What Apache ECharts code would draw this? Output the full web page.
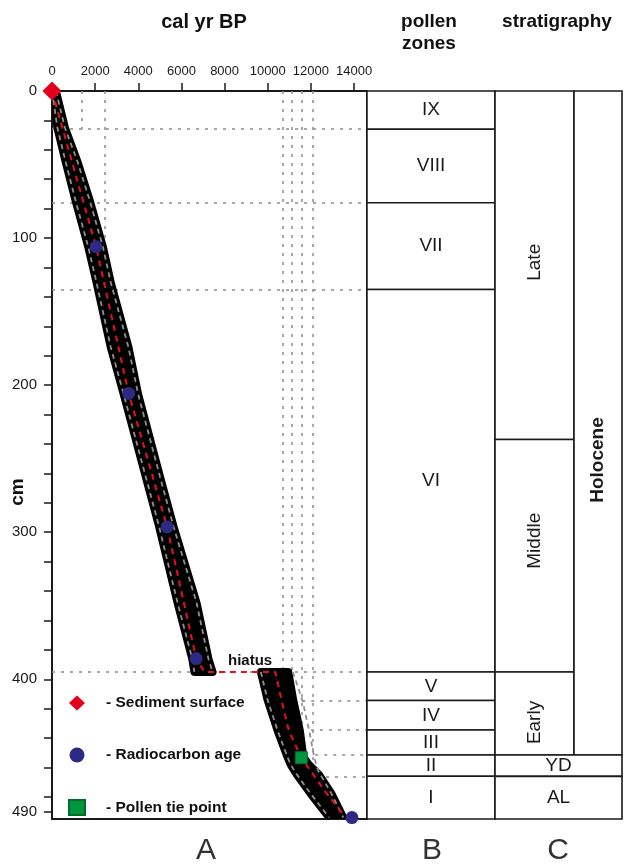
<!DOCTYPE html>
<html>
<head>
<meta charset="utf-8">
<script src="https://cdn.jsdelivr.net/npm/echarts@6/dist/echarts.min.js"></script>
<style>
html, body { margin: 0; padding: 0; background: #fff; }
#container { width: 626px; height: 865px; }
</style>
</head>
<body>
<div id="container"></div>
<script>
// axis ticks
var xTicks = [0, 2000, 4000, 6000, 8000, 10000, 12000, 14000];
var yLabels = [0, 100, 200, 300, 400, 490];
var yTicks = [0, 20, 40, 60, 80, 100, 120, 140, 160, 180, 200, 220, 240, 260, 280, 300,
              320, 340, 360, 380, 400, 420, 440, 460, 480, 490];

// dated levels [cal yr BP, cm]
var surfaceAge = [[0, 0]];
var radiocarbonAges = [[2042, 105.9], [3555, 205.6], [5336, 296.4], [6682, 385.9], [13900, 494]];
var pollenTiePoints = [[11555, 453.3]];

// age-depth model (red dashed)
var medianAges = [0, 2042, 3555, 5336, 6682, 7067, 10350, 10650, 10980, 11555, 12650, 13550];
var medianDepths = [0, 105.9, 205.6, 296.4, 385.9, 395, 395, 415, 435, 453.3, 476, 493];

// uncertainty envelope, above hiatus
var upperDepths = [0, 25, 48, 75, 106, 130, 174, 206, 262, 296, 348, 386, 395];
var upperYoung = [0, 250, 630, 1100, 1680, 2060, 2720, 3320, 4340, 4960, 5820, 6500, 6600];
var upperOld = [180, 600, 1180, 1760, 2360, 2720, 3540, 3990, 5000, 5630, 6700, 7250, 7440];

// uncertainty envelope, below hiatus
var lowerDepths = [395, 414, 435, 453, 458, 465, 478, 494];
var lowerYoung = [9680, 9990, 10460, 10920, 11060, 11360, 12000, 12850];
var lowerOld = [10950, 11180, 11490, 11650, 11900, 12380, 12960, 13500];
var lowerMaxDepths = [395, 415, 437, 453, 462, 478, 494];
var lowerMaxAges = [11165, 11620, 11950, 12150, 12330, 12960, 13500];

var hiatusDepth = 395;
var hiatusLabelAge = 9180;

// dotted guides
var boundaryDepths = [26, 76, 135, 395, 414.5, 434.5, 451.5, 466];
var boundaryFromAges = [0, 0, 0, 0, 11600, 12000, 12200, 12700];
var guideAges = [1400, 2430, 10700, 11100, 11570, 12080];
var guideDepths = [26, 135, 395, 414.5, 434.5, 466];

// pollen zones
var pollenZones = ['IX', 'VIII', 'VII', 'VI', 'V', 'IV', 'III', 'II', 'I'];
var zoneTops = [0, 26, 76, 135, 395, 414.5, 434.5, 451.5, 466];
var zoneBottoms = [26, 76, 135, 395, 414.5, 434.5, 451.5, 466, 495];

// stratigraphy
var stratUnits = ['Late', 'Middle', 'Early', 'Holocene', 'YD', 'AL'];
var stratRanks = ['stage', 'stage', 'stage', 'epoch', 'zone', 'zone'];
var stratTops = [0, 237, 395, 0, 451.5, 466];
var stratBottoms = [237, 395, 451.5, 451.5, 466, 495];

var AGE_MAX = 14600;
var DEPTH_MAX = 495;
var FONT = '"Liberation Sans", Arial, Helvetica, sans-serif';

function pairs(xs, ys) {
    return xs.map(function (x, i) { return [x, ys[i]]; });
}

var envelopes = [
    { depths: upperDepths, young: upperYoung, old: upperOld },
    { depths: lowerDepths, young: lowerYoung, old: lowerOld }
];

function renderEnvelope(params, api) {
    var seg = envelopes[params.dataIndex];
    var pts = [];
    for (var i = 0; i < seg.depths.length; i++) pts.push(api.coord([seg.young[i], seg.depths[i]]));
    for (var j = seg.depths.length - 1; j >= 0; j--) pts.push(api.coord([seg.old[j], seg.depths[j]]));
    return {
        type: 'polygon',
        shape: { points: pts },
        style: { fill: '#000', stroke: '#000', lineWidth: 8, lineJoin: 'round' }
    };
}

function cellText(text, x, y, font, rotation) {
    return {
        type: 'text', x: x, y: y, rotation: rotation || 0,
        style: {
            text: text, font: font, fill: '#1a1a1a',
            align: 'center', verticalAlign: 'middle',
            textAlign: 'center', textVerticalAlign: 'middle'
        }
    };
}

function renderZone(params, api) {
    var a = api.coord([0, api.value(0)]);
    var b = api.coord([1, api.value(1)]);
    return {
        type: 'group',
        children: [
            { type: 'rect', shape: { x: a[0], y: a[1], width: b[0] - a[0], height: b[1] - a[1] },
              style: { fill: '#fff', stroke: '#1a1a1a', lineWidth: 1.5 } },
            cellText(pollenZones[params.dataIndex], (a[0] + b[0]) / 2, (a[1] + b[1]) / 2, '19px ' + FONT)
        ]
    };
}

var rankCols = { stage: [0, 0.622], epoch: [0.622, 1], zone: [0, 1] };
var labelShift = { Late: -3, Middle: -15, Early: 9, Holocene: 37 };

function renderStrat(params, api) {
    var i = params.dataIndex;
    var rank = stratRanks[i];
    var cols = rankCols[rank];
    var a = api.coord([cols[0], api.value(0)]);
    var b = api.coord([cols[1], api.value(1)]);
    var font = (rank === 'epoch' ? 'bold 19px ' : '19px ') + FONT;
    var rot = rank === 'zone' ? 0 : Math.PI / 2;
    return {
        type: 'group',
        children: [
            { type: 'rect', shape: { x: a[0], y: a[1], width: b[0] - a[0], height: b[1] - a[1] },
              style: { fill: '#fff', stroke: '#1a1a1a', lineWidth: 1.6 } },
            cellText(stratUnits[i], (a[0] + b[0]) / 2, (a[1] + b[1]) / 2 + (labelShift[stratUnits[i]] || 0), font, rot)
        ]
    };
}

var guideLines = [];
boundaryDepths.forEach(function (d, i) {
    guideLines.push({ coords: [[boundaryFromAges[i], d], [AGE_MAX, d]] });
});
guideAges.forEach(function (a, i) {
    guideLines.push({ coords: [[a, 0], [a, guideDepths[i]]] });
});

var grayDash = { color: '#8f8f8f', width: 1.8, type: [5, 4] };

var myChart = echarts.init(document.getElementById('container'));

myChart.setOption({
    animation: false,
    grid: [
        { left: 52, top: 91, width: 315, height: 728, show: true, borderColor: '#1a1a1a', borderWidth: 2, outerBoundsMode: 'none' },
        { left: 367, top: 91, width: 128, height: 728, outerBoundsMode: 'none' },
        { left: 495, top: 91, width: 127, height: 728, outerBoundsMode: 'none' }
    ],
    xAxis: [
        {
            gridIndex: 0, type: 'value', position: 'top', min: 0, max: AGE_MAX,
            axisLine: { show: true, lineStyle: { color: '#1a1a1a', width: 2 } },
            axisTick: { show: true, customValues: xTicks, length: 8, lineStyle: { color: '#1a1a1a', width: 1.5 } },
            axisLabel: {
                customValues: xTicks, fontSize: 13, fontFamily: FONT, color: '#1a1a1a', margin: 13,
                formatter: function (v) { return String(v); }
            },
            splitLine: { show: false }
        },
        { gridIndex: 1, type: 'value', min: 0, max: 1, show: false },
        { gridIndex: 2, type: 'value', min: 0, max: 1, show: false }
    ],
    yAxis: [
        {
            gridIndex: 0, type: 'value', inverse: true, min: 0, max: DEPTH_MAX,
            axisLine: { show: true, lineStyle: { color: '#1a1a1a', width: 2 } },
            axisTick: { show: true, customValues: yTicks, length: 8, lineStyle: { color: '#1a1a1a', width: 1.5 } },
            axisLabel: { customValues: yLabels, fontSize: 15, fontFamily: FONT, color: '#1a1a1a', margin: 15 },
            splitLine: { show: false }
        },
        { gridIndex: 1, type: 'value', inverse: true, min: 0, max: DEPTH_MAX, show: false },
        { gridIndex: 2, type: 'value', inverse: true, min: 0, max: DEPTH_MAX, show: false }
    ],
    legend: {
        orient: 'vertical', left: 63, top: 690, itemGap: 36,
        itemWidth: 16, itemHeight: 15, selectedMode: false,
        data: ['- Sediment surface', '- Radiocarbon age', '- Pollen tie point'],
        textStyle: { fontSize: 15.5, fontWeight: 'bold', fontFamily: FONT, color: '#111', padding: [0, 0, 0, 16] }
    },
    graphic: [
        { type: 'text', x: 204, y: 22, style: { text: 'cal yr BP', font: 'bold 20px ' + FONT, fill: '#111', textAlign: 'center', textVerticalAlign: 'middle' } },
        { type: 'text', x: 429, y: 22, style: { text: 'pollen', font: 'bold 19px ' + FONT, fill: '#111', textAlign: 'center', textVerticalAlign: 'middle' } },
        { type: 'text', x: 429, y: 44, style: { text: 'zones', font: 'bold 19px ' + FONT, fill: '#111', textAlign: 'center', textVerticalAlign: 'middle' } },
        { type: 'text', x: 557, y: 22, style: { text: 'stratigraphy', font: 'bold 19px ' + FONT, fill: '#111', textAlign: 'center', textVerticalAlign: 'middle' } },
        { type: 'text', x: 18, y: 492, rotation: Math.PI / 2, style: { text: 'cm', font: 'bold 19px ' + FONT, fill: '#111', textAlign: 'center', textVerticalAlign: 'middle' } },
        { type: 'text', x: 206, y: 851, style: { text: 'A', font: '30px ' + FONT, fill: '#333', textAlign: 'center', textVerticalAlign: 'middle' } },
        { type: 'text', x: 432, y: 851, style: { text: 'B', font: '30px ' + FONT, fill: '#333', textAlign: 'center', textVerticalAlign: 'middle' } },
        { type: 'text', x: 558, y: 851, style: { text: 'C', font: '30px ' + FONT, fill: '#333', textAlign: 'center', textVerticalAlign: 'middle' } }
    ],
    series: [
        {
            name: 'guides', type: 'lines', coordinateSystem: 'cartesian2d', xAxisIndex: 0, yAxisIndex: 0,
            silent: true, z: 1, data: guideLines,
            lineStyle: { color: '#8a8a8a', width: 1.5, type: [3, 6], opacity: 1 }
        },
        {
            name: 'envelope', type: 'custom', xAxisIndex: 0, yAxisIndex: 0, z: 2, clip: true, silent: true,
            renderItem: renderEnvelope,
            data: [[upperYoung[0], upperDepths[0]], [lowerYoung[0], lowerDepths[0]]]
        },
        { name: 'upperYoung', type: 'line', z: 3, showSymbol: false, silent: true, lineStyle: grayDash, data: pairs(upperYoung, upperDepths) },
        { name: 'upperOld', type: 'line', z: 3, showSymbol: false, silent: true, lineStyle: grayDash, data: pairs(upperOld, upperDepths) },
        { name: 'lowerYoung', type: 'line', z: 3, showSymbol: false, silent: true, lineStyle: grayDash, data: pairs(lowerYoung, lowerDepths) },
        { name: 'lowerMax', type: 'line', z: 3, showSymbol: false, silent: true, lineStyle: grayDash, data: pairs(lowerMaxAges, lowerMaxDepths) },
        {
            name: 'model', type: 'line', z: 4, showSymbol: false, silent: true,
            lineStyle: { color: '#e8101a', width: 2, type: [6, 5] },
            data: pairs(medianAges, medianDepths)
        },
        {
            name: 'hiatus', type: 'scatter', z: 4, symbolSize: 1, silent: true,
            itemStyle: { color: 'rgba(0,0,0,0)', opacity: 1 },
            label: { show: true, position: 'top', distance: 3, formatter: 'hiatus', fontSize: 15, fontWeight: 'bold', fontFamily: FONT, color: '#111', opacity: 1 },
            data: [[hiatusLabelAge, hiatusDepth]]
        },
        {
            name: '- Sediment surface', type: 'scatter', z: 5, clip: false, symbol: 'diamond', symbolSize: 19,
            itemStyle: { color: '#e3001b', opacity: 1 }, data: surfaceAge
        },
        {
            name: '- Radiocarbon age', type: 'scatter', z: 5, clip: false, symbol: 'circle', symbolSize: 13,
            itemStyle: { color: '#2d2a83', opacity: 1 }, data: radiocarbonAges
        },
        {
            name: '- Pollen tie point', type: 'scatter', z: 5, clip: false, symbol: 'rect', symbolSize: 12,
            itemStyle: { color: '#009640', borderColor: '#006b2e', borderWidth: 1, opacity: 1 }, data: pollenTiePoints
        },
        {
            name: 'zones', type: 'custom', xAxisIndex: 1, yAxisIndex: 1, silent: true,
            renderItem: renderZone,
            data: pairs(zoneTops, zoneBottoms)
        },
        {
            name: 'strat', type: 'custom', xAxisIndex: 2, yAxisIndex: 2, silent: true,
            renderItem: renderStrat,
            data: pairs(stratTops, stratBottoms)
        }
    ]
});
</script>
</body>
</html>
